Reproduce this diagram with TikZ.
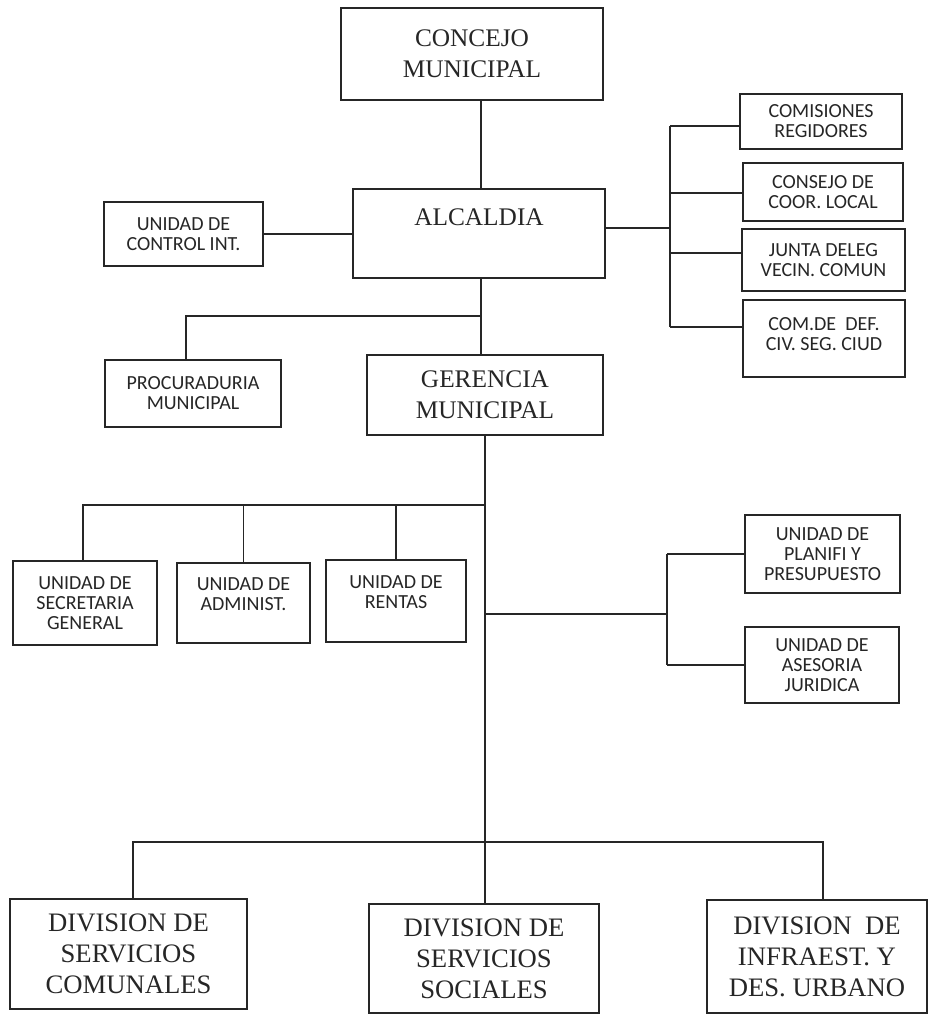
\documentclass[tikz,border=0pt]{standalone}
\usepackage{fontspec}
\setmainfont{Liberation Serif}
\newfontfamily\boxsans{Carlito}
\begin{document}
\begin{tikzpicture}[x=0.75pt,y=-0.75pt,
  box/.style={draw=black!85, line width=0.9pt, inner sep=0pt, align=center, text=black!85},
  big/.style={font=\fontsize{19}{23.5}\selectfont},
  divf/.style={font=\fontsize{20}{23.25}\selectfont},
  small/.style={font=\boxsans\fontsize{15}{15}\selectfont},
  conn/.style={draw=black!85, line width=0.9pt}]
\useasboundingbox (0,0) rectangle (929,1024);

% upper column
\node[box,big,minimum width=196.5pt,minimum height=69pt] (concejo) at (472,54) {CONCEJO\\MUNICIPAL};
\node[box,big,minimum width=189pt,minimum height=66.75pt,text depth=24.8pt] (alcaldia) at (479,233.5) {ALCALDIA};
\node[box,big,minimum width=177pt,minimum height=60pt] (gerencia) at (485,395) {GERENCIA\\MUNICIPAL};

% left of alcaldia
\node[box,small,minimum width=119.25pt,minimum height=48pt] (control) at (183.5,234) {UNIDAD DE\\CONTROL INT.};
\node[box,small,minimum width=132pt,minimum height=50.25pt] (procu) at (193,393.5) {PROCURADURIA\\MUNICIPAL};

% right of alcaldia
\node[box,small,minimum width=121.5pt,minimum height=41.25pt] (comisiones) at (821,121.5) {COMISIONES\\REGIDORES};
\node[box,small,minimum width=120pt,minimum height=43.5pt] (consejo) at (823,192) {CONSEJO DE\\COOR. LOCAL};
\node[box,small,minimum width=122.25pt,minimum height=46.5pt] (junta) at (823.5,260) {JUNTA DELEG\\VECIN. COMUN};
\node[box,minimum width=121.5pt,minimum height=57.75pt,
  label={[small,align=center,text=black!85,yshift=3.4pt]center:{COM.DE\ \ DEF.\\CIV. SEG. CIUD}}] (comdef) at (824,338.5) {};

% units under gerencia
\node[box,small,minimum width=108pt,minimum height=63pt] (secretaria) at (85,603) {UNIDAD DE\\SECRETARIA\\GENERAL};
\node[box,minimum width=99.75pt,minimum height=60pt,
  label={[small,align=center,text=black!85,yshift=6.75pt]center:{UNIDAD DE\\ADMINIST.}}] (administ) at (243.5,603) {};
\node[box,minimum width=105pt,minimum height=61.5pt,
  label={[small,align=center,text=black!85,yshift=6.75pt]center:{UNIDAD DE\\RENTAS}}] (rentas) at (396,601) {};
\node[box,small,minimum width=116.25pt,minimum height=58.5pt] (planifi) at (822.5,554) {UNIDAD DE\\PLANIFI Y\\PRESUPUESTO};
\node[box,small,minimum width=115.5pt,minimum height=57pt] (asesoria) at (822,665) {UNIDAD DE\\ASESORIA\\JURIDICA};

% divisions
\node[box,divf,minimum width=177.75pt,minimum height=82.5pt] (comunales) at (128.5,954) {DIVISION DE\\SERVICIOS\\COMUNALES};
\node[box,divf,minimum width=172.5pt,minimum height=81.75pt] (sociales) at (484,958.5) {DIVISION DE\\SERVICIOS\\SOCIALES};
\node[box,divf,minimum width=165pt,minimum height=84.75pt] (infraest) at (817,956.5) {DIVISION\ \ DE\\INFRAEST. Y\\DES. URBANO};

% connectors: upper column
\coordinate (t1) at (481,0);
\draw[conn] (concejo.south -| t1) -- (alcaldia.north -| t1);
\draw[conn] (alcaldia.south -| t1) -- (gerencia.north -| t1);
\draw[conn] (control.east) -- (control.east -| alcaldia.west);
\coordinate (pj) at (481,316);
\coordinate (pl) at (186,316);
\draw[conn] (pj) -- (pl) -- (procu.north -| pl);

% right bracket of alcaldia
\coordinate (ra) at (670,228);
\coordinate (rb1) at (670,126);
\coordinate (rb2) at (670,193);
\coordinate (rb3) at (670,253);
\coordinate (rb4) at (670,327);
\draw[conn] (alcaldia.east |- ra) -- (ra);
\draw[conn] (rb1) -- (rb4);
\draw[conn] (rb1) -- (comisiones.west |- rb1);
\draw[conn] (rb2) -- (consejo.west |- rb2);
\draw[conn] (rb3) -- (junta.west |- rb3);
\draw[conn] (rb4) -- (comdef.west |- rb4);

% trunk under gerencia
\coordinate (t2) at (485,0);
\draw[conn] (gerencia.south -| t2) -- (sociales.north -| t2);
\coordinate (lb) at (485,505);
\coordinate (lb0) at (83,505);
\draw[conn] (lb) -- (lb0) -- (secretaria.north -| lb0);
\draw[conn] (administ.north |- lb) -- (administ.north);
\draw[conn] (rentas.north |- lb) -- (rentas.north);
\coordinate (rr) at (667,614);
\draw[conn] (t2 |- rr) -- (rr);
\draw[conn] (planifi.west -| rr) -- (asesoria.west -| rr);
\draw[conn] (planifi.west -| rr) -- (planifi.west);
\draw[conn] (asesoria.west -| rr) -- (asesoria.west);

% divisions bar
\coordinate (bl) at (133,842);
\coordinate (br) at (823,842);
\draw[conn] (comunales.north -| bl) -- (bl) -- (br) -- (infraest.north -| br);
\end{tikzpicture}
\end{document}
